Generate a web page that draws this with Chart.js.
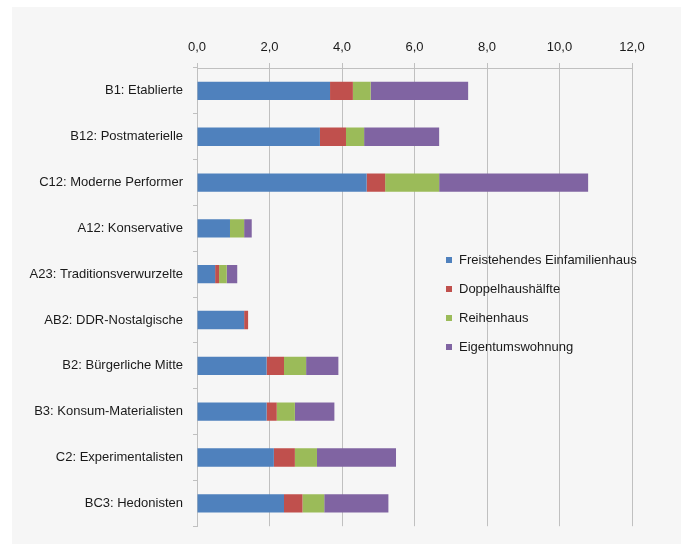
<!DOCTYPE html>
<html>
<head>
<meta charset="utf-8">
<script src="https://cdn.jsdelivr.net/npm/chart.js@4/dist/chart.umd.min.js"></script>
<style>
  html, body { margin: 0; padding: 0; background: #ffffff; }
  #wrap { position: relative; width: 681px; height: 544px; }
  #panel { position: absolute; left: 12px; top: 7px; right: 0; bottom: 0; background: #f6f6f6; }
  canvas { position: absolute; left: 0; top: 0; }
</style>
</head>
<body>
<div id="wrap">
  <div id="panel"></div>
  <canvas id="c" width="681" height="544"></canvas>
</div>
<script>
const categories = [
  "B1: Etablierte",
  "B12: Postmaterielle",
  "C12: Moderne Performer",
  "A12: Konservative",
  "A23: Traditionsverwurzelte",
  "AB2: DDR-Nostalgische",
  "B2: Bürgerliche Mitte",
  "B3: Konsum-Materialisten",
  "C2: Experimentalisten",
  "BC3: Hedonisten"
];
const seriesNames = ["Freistehendes Einfamilienhaus", "Doppelhaushälfte", "Reihenhaus", "Eigentumswohnung"];
const freistehend = [3.67, 3.39, 4.68, 0.91, 0.50, 1.30, 1.92, 1.92, 2.12, 2.40];
const doppelhaus  = [0.63, 0.72, 0.51, 0.00, 0.11, 0.11, 0.48, 0.28, 0.58, 0.51];
const reihenhaus  = [0.49, 0.50, 1.49, 0.39, 0.21, 0.00, 0.61, 0.50, 0.61, 0.60];
const eigentum    = [2.69, 2.07, 4.11, 0.21, 0.29, 0.00, 0.89, 1.09, 2.18, 1.77];
const xTicks = [0, 2, 4, 6, 8, 10, 12];
const colors = ["#4f81bd", "#c0504d", "#9bbb59", "#8064a2"];

const FONT = "'Liberation Sans', Arial, sans-serif";
const values = [freistehend, doppelhaus, reihenhaus, eigentum];

const legendPlugin = {
  id: 'innerLegend',
  afterDraw(chart) {
    const ctx = chart.ctx;
    ctx.save();
    ctx.font = "13px " + FONT;
    ctx.textBaseline = 'middle';
    ctx.textAlign = 'left';
    chart.data.datasets.forEach((ds, i) => {
      const y = 260 + i * 29;
      ctx.fillStyle = ds.backgroundColor;
      ctx.fillRect(446, y - 3, 6, 6);
      ctx.fillStyle = '#1a1a1a';
      ctx.fillText(ds.label, 459, y);
    });
    ctx.restore();
  }
};

new Chart(document.getElementById('c'), {
  type: 'bar',
  data: {
    labels: categories,
    datasets: seriesNames.map((n, i) => ({
      label: n,
      data: values[i],
      backgroundColor: colors[i],
      borderWidth: 0,
      barPercentage: 0.4,
      categoryPercentage: 1.0
    }))
  },
  options: {
    indexAxis: 'y',
    responsive: false,
    animation: false,
    layout: { padding: { left: 12, top: 27, right: 49, bottom: 10 } },
    plugins: {
      legend: { display: false },
      tooltip: { enabled: false }
    },
    scales: {
      x: {
        position: 'top',
        stacked: true,
        min: 0,
        max: 12,
        afterBuildTicks(scale) { scale.ticks = xTicks.map(v => ({ value: v })); },
        afterFit(scale) { scale.height = 41; },
        ticks: {
          color: '#1a1a1a',
          font: { family: FONT, size: 13 },
          padding: 8,
          callback: (v) => Number(v).toFixed(1).replace('.', ',')
        },
        grid: { color: '#c0c0c0', lineWidth: 1, tickLength: 5, drawTicks: true },
        border: { color: '#c0c0c0', width: 1 }
      },
      y: {
        stacked: true,
        afterFit(scale) { scale.width = 185; },
        ticks: {
          color: '#1a1a1a',
          font: { family: FONT, size: 13 },
          padding: 10
        },
        grid: { drawOnChartArea: false, drawTicks: true, tickLength: 4, color: '#c0c0c0', offset: true },
        border: { color: '#c0c0c0', width: 1 }
      }
    }
  },
  plugins: [legendPlugin]
});
</script>
</body>
</html>
